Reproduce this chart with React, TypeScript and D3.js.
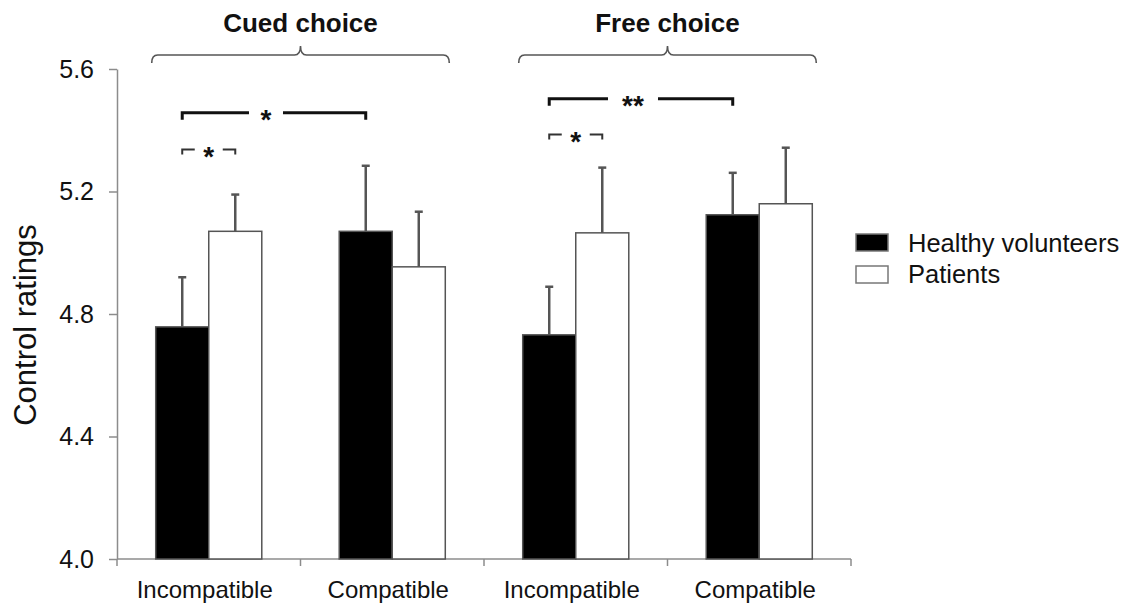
import React, { useEffect, useRef } from "react";
import * as d3 from "d3";

// data
const conditions = ["Incompatible", "Compatible", "Incompatible", "Compatible"];
const choiceGroups = ["Cued choice", "Free choice"];
const seriesNames = ["Healthy volunteers", "Patients"];
const healthyMeans = [4.758, 5.07, 4.732, 5.124];
const healthyErr = [0.162, 0.214, 0.157, 0.137];
const patientMeans = [5.07, 4.954, 5.065, 5.16];
const patientErr = [0.12, 0.18, 0.213, 0.183];
const yTicks = [4.0, 4.4, 4.8, 5.2, 5.6];

// significance comparisons: [condition index, series index] pairs, label, level
const comparisons = [
  { a: [0, 0], b: [1, 0], label: "*", level: 5.457, strong: true },
  { a: [0, 0], b: [0, 1], label: "*", level: 5.337, strong: false },
  { a: [2, 0], b: [3, 0], label: "**", level: 5.503, strong: true },
  { a: [2, 0], b: [2, 1], label: "*", level: 5.386, strong: false },
];

const FONT = "'Liberation Sans', Arial, Helvetica, sans-serif";

function App() {
  const svgRef = useRef<SVGSVGElement>(null);

  useEffect(() => {
    const svg = d3.select(svgRef.current);
    svg.selectAll("*").remove();

    const left = 117, right = 851, top = 69, bottom = 559;

    const x0 = d3.scaleBand<number>().domain(d3.range(conditions.length)).range([left, right]).padding(0);
    const x1 = d3.scaleBand<string>().domain(seriesNames).range([0, x0.bandwidth()]).paddingInner(0).paddingOuter(0.73);
    const y = d3.scaleLinear().domain([4.0, 5.6]).range([bottom, top]);

    const rows = conditions.map((c, i) => [
      { i, s: seriesNames[0], v: healthyMeans[i], e: healthyErr[i], fill: "#000" },
      { i, s: seriesNames[1], v: patientMeans[i], e: patientErr[i], fill: "#fff" },
    ]).flat();

    const cx = (i: number, s: string) => x0(i)! + x1(s)! + x1.bandwidth() / 2;

    // y axis
    const yAxis = d3.axisLeft(y).tickValues(yTicks).tickFormat(d3.format(".1f")).tickSize(8).tickSizeOuter(0).tickPadding(15);
    const gy = svg.append("g").attr("transform", `translate(${left},0)`).call(yAxis);
    gy.selectAll("path, line").attr("stroke", "#8c8c8c").attr("stroke-width", 1.5);
    gy.selectAll("text").attr("font-size", 25).attr("font-family", FONT).attr("fill", "#111");

    // x axis
    const gx = svg.append("g");
    gx.append("line").attr("x1", left).attr("x2", right).attr("y1", bottom).attr("y2", bottom)
      .attr("stroke", "#8c8c8c").attr("stroke-width", 1.5);
    const bounds = x0.domain().map(i => x0(i)!).concat([right]);
    gx.selectAll("line.tick").data(bounds).join("line").attr("class", "tick")
      .attr("x1", d => d).attr("x2", d => d).attr("y1", bottom).attr("y2", bottom + 7)
      .attr("stroke", "#8c8c8c").attr("stroke-width", 1.5);
    gx.selectAll("text").data(conditions).join("text")
      .attr("x", (d, i) => x0(i)! + x0.bandwidth() / 2 - 4).attr("y", 598)
      .attr("text-anchor", "middle").attr("font-size", 24).attr("font-family", FONT).attr("fill", "#111")
      .text(d => d);

    // y label
    svg.append("text").attr("transform", `translate(36,325) rotate(-90)`)
      .attr("text-anchor", "middle").attr("font-size", 31).attr("font-family", FONT).attr("fill", "#111")
      .text("Control ratings");

    // bars
    svg.append("g").selectAll("rect").data(rows).join("rect")
      .attr("x", d => x0(d.i)! + x1(d.s)!)
      .attr("width", x1.bandwidth())
      .attr("y", d => y(d.v))
      .attr("height", d => y(4.0) - y(d.v))
      .attr("fill", d => d.fill)
      .attr("stroke", "#555").attr("stroke-width", 1.5);

    // error bars (upper only)
    const eb = svg.append("g").attr("stroke", "#555").attr("stroke-width", 2.5);
    eb.selectAll("line.v").data(rows).join("line").attr("class", "v")
      .attr("x1", d => cx(d.i, d.s)).attr("x2", d => cx(d.i, d.s))
      .attr("y1", d => y(d.v)).attr("y2", d => y(d.v + d.e));
    eb.selectAll("line.c").data(rows).join("line").attr("class", "c")
      .attr("x1", d => cx(d.i, d.s) - 4).attr("x2", d => cx(d.i, d.s) + 4)
      .attr("y1", d => y(d.v + d.e)).attr("y2", d => y(d.v + d.e));

    // group braces and titles
    choiceGroups.forEach((g, k) => {
      const x1s = x0(k * 2)! + x1(seriesNames[0])! - 4;
      const x2s = x0(k * 2 + 1)! + x1(seriesNames[1])! + x1.bandwidth() + 4;
      const mid = (x1s + x2s) / 2;
      const by = 55;
      svg.append("path")
        .attr("d", `M${x1s},${by + 8} Q${x1s},${by} ${x1s + 6},${by} L${mid - 6},${by} Q${mid},${by} ${mid},${by - 9} Q${mid},${by} ${mid + 6},${by} L${x2s - 6},${by} Q${x2s},${by} ${x2s},${by + 8}`)
        .attr("fill", "none").attr("stroke", "#555").attr("stroke-width", 1.6);
      svg.append("text").attr("x", mid).attr("y", 32).attr("text-anchor", "middle")
        .attr("font-size", 26).attr("font-weight", "bold").attr("font-family", FONT).attr("fill", "#111")
        .text(g);
    });

    // significance brackets
    comparisons.forEach(c => {
      const xa = cx(c.a[0], seriesNames[c.a[1]]);
      const xb = cx(c.b[0], seriesNames[c.b[1]]);
      const yy = y(c.level);
      const mid = (xa + xb) / 2 - (c.strong ? 8 : 0);
      const gap = c.strong ? (c.label.length > 1 ? 25 : 17) : 14;
      const drop = c.strong ? 7 : 5;
      const g = svg.append("g").attr("fill", "none")
        .attr("stroke", c.strong ? "#111" : "#333").attr("stroke-width", c.strong ? 3 : 2);
      g.append("path").attr("d", `M${xa},${yy + drop} L${xa},${yy} L${mid - gap},${yy}`);
      g.append("path").attr("d", `M${mid + gap},${yy} L${xb},${yy} L${xb},${yy + drop}`);
      svg.append("text").attr("x", mid).attr("y", yy + 16).attr("text-anchor", "middle")
        .attr("font-size", 28).attr("font-weight", "bold").attr("font-family", FONT).attr("fill", "#111")
        .text(c.label);
    });

    // legend
    const lg = svg.append("g").attr("transform", "translate(856,234)");
    seriesNames.forEach((s, i) => {
      lg.append("rect").attr("x", 0).attr("y", i * 32).attr("width", 32).attr("height", 17)
        .attr("fill", i === 0 ? "#000" : "#fff").attr("stroke", "#777").attr("stroke-width", 1.5);
      lg.append("text").attr("x", 52).attr("y", i * 31 + 18).attr("font-size", 25.5)
        .attr("font-family", FONT).attr("fill", "#111").text(s);
    });
  }, []);

  return (
    <svg ref={svgRef} width={1130} height={610}
      style={{ position: "absolute", left: 0, top: 0, background: "#fff" }} />
  );
}

export default App;
